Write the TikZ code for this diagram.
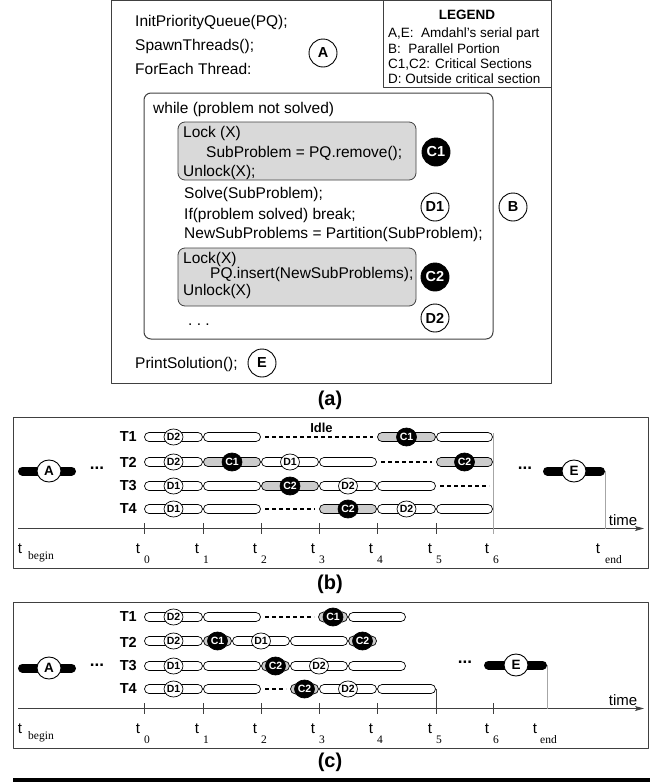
\documentclass[tikz,border=0pt]{standalone}
\usepackage{fontspec}
\setmainfont{Liberation Sans}
\newfontfamily\serifsub{Liberation Serif}
\usetikzlibrary{arrows.meta,shapes.geometric,positioning}

\definecolor{critgray}{gray}{0.80}
\definecolor{boxgray}{gray}{0.85}
\definecolor{framegray}{gray}{0.25}

\tikzset{
  codeline/.style={anchor=base west, inner sep=0pt, font=\fontsize{15.5}{18}\selectfont},
  legendline/.style={anchor=base west, inner sep=0pt, font=\fontsize{13.5}{15}\selectfont},
  part/.style={circle, draw, line width=0.9pt, fill=white, inner sep=0pt, minimum size=28pt, font=\bfseries\fontsize{14.5}{15}\selectfont},
  critpart/.style={part, fill=black, text=white},
  rowpart/.style={ellipse, draw, line width=0.7pt, fill=white, inner sep=0pt, minimum width=18pt, minimum height=16pt, font=\bfseries\fontsize{10.5}{11}\selectfont},
  rowcrit/.style={rowpart, fill=black, text=white, minimum width=20pt, minimum height=18pt},
  serial/.style={ellipse, draw, line width=0.9pt, fill=white, inner sep=0pt, minimum width=24pt, minimum height=22pt, font=\bfseries\fontsize{13.5}{14}\selectfont},
  serialbar/.style={line width=9pt, line cap=round},
  pill/.style={draw, line width=0.7pt, fill=white, rounded corners=4.5pt},
  critpill/.style={pill, fill=critgray},
  idle/.style={line width=2.5pt, dash pattern=on 4pt off 3pt},
  panel/.style={draw=framegray, line width=1pt},
  loopbox/.style={draw=framegray, line width=1pt, rounded corners=7pt},
  critbox/.style={draw=framegray, line width=0.8pt, fill=boxgray, rounded corners=7pt},
  thread/.style={anchor=east, inner sep=0pt, font=\bfseries\fontsize{14.5}{15}\selectfont},
  panelcap/.style={anchor=base, inner sep=0pt, font=\bfseries\fontsize{20}{20}\selectfont},
  timeaxis/.style={draw=framegray, line width=0.9pt, -{Stealth[length=9pt,width=5pt,inset=2pt]}},
  tick/.style={draw=framegray, line width=0.9pt},
  guide/.style={draw=gray!70, line width=0.8pt},
  timelabel/.style={anchor=base, inner sep=0pt, font=\fontsize{15}{15}\selectfont},
  tlabel/.style={anchor=base, inner sep=0pt, font=\fontsize{15}{15}\selectfont},
  tsub/.style={anchor=base, inner sep=0pt, font=\serifsub\fontsize{11.5}{12}\selectfont},
  moredots/.style={inner sep=0pt, font=\bfseries\fontsize{17}{17}\selectfont},
  idlelabel/.style={anchor=base, inner sep=0pt, font=\bfseries\fontsize{13}{13}\selectfont},
}

% one slot of a thread row: kind, from, to, row, name, label
\newcommand{\segp}[5]{\draw[pill] (#1+0.5,#3-4.5) rectangle (#2-0.5,#3+4.5);}
\newcommand{\segw}[5]{\segp{#1}{#2}{#3}{}{}\node[rowpart] (#4) at ({(#1+#2)/2},#3) {#5};}
\newcommand{\segg}[5]{\draw[critpill] (#1+0.5,#3-4.5) rectangle (#2-0.5,#3+4.5);
  \node[rowcrit] (#4) at ({(#1+#2)/2},#3) {#5};}
\newcommand{\segs}[5]{\draw[critpill, rounded corners=5pt] (#1+0.5,#3-5) rectangle (#2-0.5,#3+5);
  \node[rowcrit] (#4) at ({(#1+#2)/2},#3) {#5};}
\newcommand{\segi}[5]{\draw[idle] (#1+4,#3) -- (#2-4,#3);}
\newcommand{\seg}[1]{\csname seg#1\endcsname}

\begin{document}
\begin{tikzpicture}[x=1pt, y=-1pt, line join=round]
\useasboundingbox (0,0) rectangle (656,782);

% (a) program
\draw[panel] (111,0.5) rectangle (551,383);
\draw[panel] (383,0.5) rectangle (551,87);
\node[legendline, anchor=base, font=\bfseries\fontsize{13.5}{15}\selectfont] (legtitle) at (467,19.5) {LEGEND};
\node[legendline] (leg1) at (388,37.5) {A,E:\ \ Amdahl's serial part};
\node[legendline] (leg2) at (388,53) {B:\ \ Parallel Portion};
\node[legendline] (leg3) at (388,68) {C1,C2: Critical Sections};
\node[legendline] (leg4) at (388,83) {D: Outside critical section};

\draw[loopbox] (144,93) rectangle (493,339);
\draw[critbox] (178,122) rectangle (416,180);
\draw[critbox] (178,248) rectangle (416,306);

\node[codeline] (init)  at (135,26)    {InitPriorityQueue(PQ);};
\node[codeline] (spawn) at (135,50)    {SpawnThreads();};
\node[codeline] (each)  at (135,74)    {ForEach Thread:};
\node[codeline] (while) at (153,113)   {while (problem not solved)};
\node[codeline] (lock1) at (183,137)   {Lock (X)};
\node[codeline] (rem)   at (206,157)   {SubProblem = PQ.remove();};
\node[codeline] (unl1)  at (183,176)   {Unlock(X);};
\node[codeline] (solve) at (184,198.5) {Solve(SubProblem);};
\node[codeline] (brk)   at (184,219)   {If(problem solved) break;};
\node[codeline] (part)  at (184,238.5) {NewSubProblems = Partition(SubProblem);};
\node[codeline] (lock2) at (183,263)   {Lock(X)};
\node[codeline] (ins)   at (210,278)   {PQ.insert(NewSubProblems);};
\node[codeline] (unl2)  at (183,295)   {Unlock(X)};
\node[codeline] (more)  at (188,325)   {.\ .\ .};
\node[codeline] (print) at (135,368.5) {PrintSolution();};

\node[part]     (A)  at (323,53)  {A};
\node[critpart] (C1) at (436,152) {C1};
\node[part]     (D1) at (435,207) {D1};
\node[part]     (B)  at (513,207) {B};
\node[critpart] (C2) at (435,277) {C2};
\node[part]     (D2) at (435,318) {D2};
\node[part]     (E)  at (262,363) {E};

\node[panelcap] (capa) at (330,405) {(a)};

% (b) and (c) timelines
\foreach \p/\dy/\top/\ay in {b/0/417/471, c/180/602/668} {
  \draw[panel] (13,\top) rectangle (648,568+\dy);
  \foreach \n/\ty in {1/437,2/462,3/486,4/509}
    \node[thread] (\p-T\n) at (137,\ty+\dy) {T\n};
  \coordinate (\p-ax0) at (18,528.5+\dy);
  \coordinate (\p-ax1) at (644,528.5+\dy);
  \draw[timeaxis] (\p-ax0) -- (\p-ax1);
  \node[timelabel] (\p-time) at (623,525+\dy) {time};
  \foreach \x [count=\i from 0] in {144,203,261,319,377,436,493} {
    \draw[tick] (\x,523+\dy) -- (\x,534+\dy);
    \node[tlabel] (\p-t\i) at (\x-6,553+\dy) {t};
    \node[tsub] (\p-s\i) at (\x+3,563+\dy) {\i};
  }
  \node[tlabel] (\p-tb) at (20,553+\dy) {t};
  \node[tsub] (\p-sb) at (41,559+\dy) {begin};
  \coordinate (\p-Al) at (22.5,\ay);
  \coordinate (\p-Ar) at (71.5,\ay);
  \draw[serialbar] (\p-Al) -- (\p-Ar);
  \node[serial] (\p-A) at (49,\ay) {A};
  \node[moredots] (\p-dA) at (97,\ay-3) {...};
}

% (b) end of run
\coordinate (b-g0) at (493,433);
\coordinate (b-g1) at (493,534);
\draw[guide] (b-g0) -- (b-g1);
\coordinate (b-El) at (547.5,471);
\coordinate (b-Er) at (600.5,471);
\draw[serialbar] (b-El) -- (b-Er);
\node[serial] (b-E) at (574,471) {E};
\node[moredots] (b-dE) at (525,468) {...};
\coordinate (b-Ee) at (605,471);
\coordinate (b-end) at (605,528.5);
\draw[guide] (b-Ee) -- (b-end);
\node[tlabel] (b-te) at (598,553) {t};
\node[tsub] (b-se) at (613.5,563) {end};
\node[idlelabel] (idle) at (321.5,432) {Idle};

% (b) rows
\foreach \kind/\xa/\xb/\lab [count=\k] in {w/144/203/D2, p/203/261/-, i/261/377/-, g/377/436/C1, p/436/493/-}
  {\seg{\kind}{\xa}{\xb}{437}{b1-\k}{\lab}}
\foreach \kind/\xa/\xb/\lab [count=\k] in {w/144/203/D2, g/203/261/C1, w/261/319/D1, p/319/377/-, i/377/436/-, g/436/493/C2}
  {\seg{\kind}{\xa}{\xb}{462}{b2-\k}{\lab}}
\foreach \kind/\xa/\xb/\lab [count=\k] in {w/144/203/D1, p/203/261/-, g/261/319/C2, w/319/377/D2, p/377/436/-, i/436/493/-}
  {\seg{\kind}{\xa}{\xb}{486}{b3-\k}{\lab}}
\foreach \kind/\xa/\xb/\lab [count=\k] in {w/144/203/D1, p/203/261/-, i/261/319/-, g/319/377/C2, w/377/436/D2, p/436/493/-}
  {\seg{\kind}{\xa}{\xb}{509}{b4-\k}{\lab}}
\node[panelcap] (capb) at (330,589) {(b)};

% (c) end of run
\coordinate (c-g0) at (436,689);
\coordinate (c-g1) at (436,714);
\draw[tick] (c-g0) -- (c-g1);
\coordinate (c-El) at (488.5,665);
\coordinate (c-Er) at (542.5,665);
\draw[serialbar] (c-El) -- (c-Er);
\node[serial] (c-E) at (516,665) {E};
\node[moredots] (c-dE) at (465,662) {...};
\coordinate (c-Ee) at (547,665);
\coordinate (c-end) at (547,708.5);
\draw[guide] (c-Ee) -- (c-end);
\node[tlabel] (c-te) at (535,733) {t};
\node[tsub] (c-se) at (548.5,743) {end};

% (c) rows
\foreach \kind/\xa/\xb/\lab [count=\k] in {w/144/203/D2, p/203/261/-, i/261/318/-, s/318/348/C1, p/348/406/-}
  {\seg{\kind}{\xa}{\xb}{617}{c1-\k}{\lab}}
\foreach \kind/\xa/\xb/\lab [count=\k] in {w/144/203/D2, s/203/232/C1, w/232/290/D1, p/290/348/-, s/348/377/C2}
  {\seg{\kind}{\xa}{\xb}{641}{c2-\k}{\lab}}
\foreach \kind/\xa/\xb/\lab [count=\k] in {w/144/203/D1, p/203/261/-, s/261/290/C2, w/290/348/D2, p/348/406/-}
  {\seg{\kind}{\xa}{\xb}{666}{c3-\k}{\lab}}
\foreach \kind/\xa/\xb/\lab [count=\k] in {w/144/203/D1, p/203/261/-, i/261/290/-, s/290/319/C2, w/319/377/D2, p/377/436/-}
  {\seg{\kind}{\xa}{\xb}{689}{c4-\k}{\lab}}
\node[panelcap] (capc) at (330,767) {(c)};

\coordinate (rule0) at (13,780);
\coordinate (rule1) at (650,780);
\draw[line width=4pt] (rule0) -- (rule1);
\end{tikzpicture}
\end{document}
